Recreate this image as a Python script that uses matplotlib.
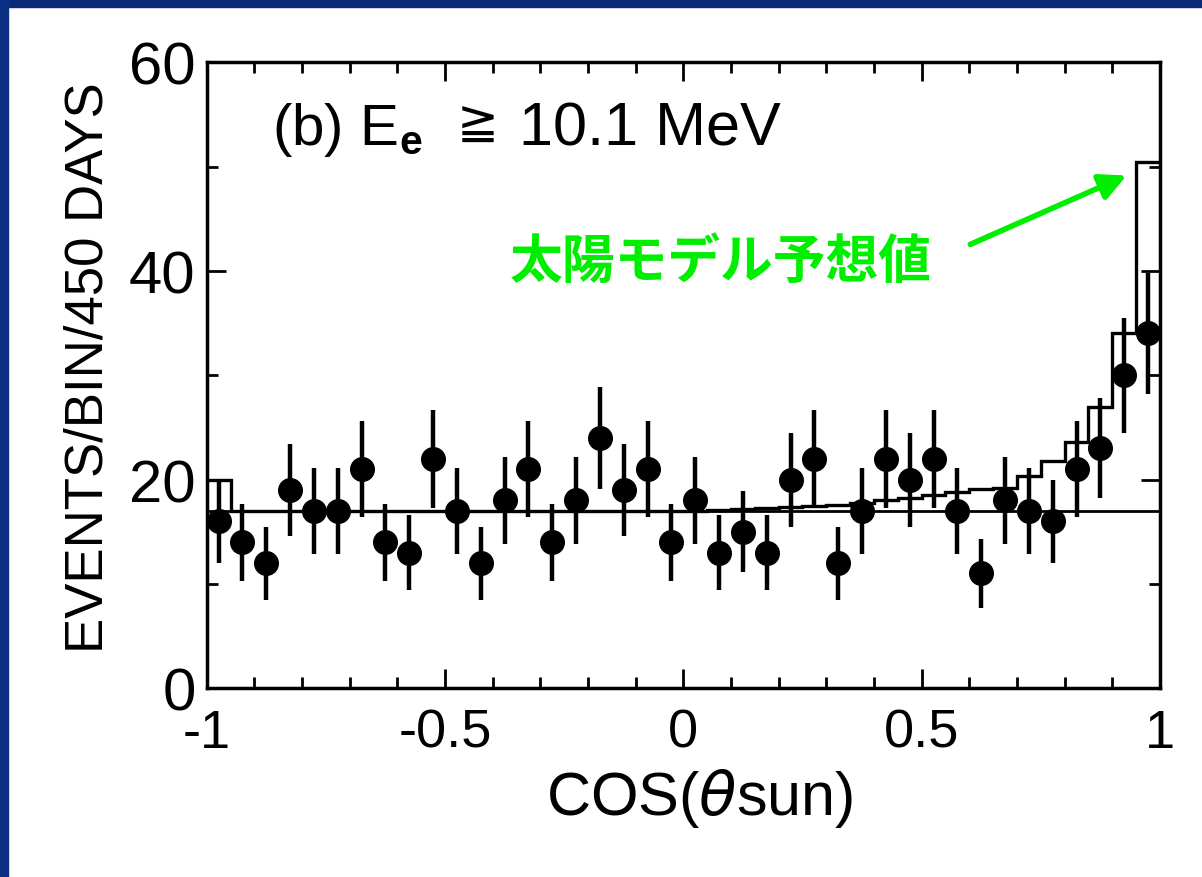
import numpy as np
import matplotlib
matplotlib.use("Agg")
import matplotlib.pyplot as plt
from matplotlib.patches import Rectangle

plt.rcParams['font.family'] = ['Liberation Sans', 'DejaVu Sans', 'Noto Sans CJK JP']
plt.rcParams['mathtext.fontset'] = 'custom'
plt.rcParams['mathtext.rm'] = 'Liberation Sans'
plt.rcParams['mathtext.bf'] = 'Liberation Sans:bold'
plt.rcParams['mathtext.it'] = 'DejaVu Sans:italic'
plt.rcParams['mathtext.default'] = 'regular'

# --- data ---
bin_lo, bin_hi, n_bins = -1.0, 1.0, 40
counts = [16, 14, 12, 19, 17, 17, 21, 14, 13, 22,
          17, 12, 18, 21, 14, 18, 24, 19, 21, 14,
          18, 13, 15, 13, 20, 22, 12, 17, 22, 20,
          22, 17, 11, 18, 17, 16, 21, 23, 30, 34]
errors = [4.0, 3.7, 3.5, 4.4, 4.1, 4.1, 4.6, 3.7, 3.6, 4.7,
          4.1, 3.5, 4.2, 4.6, 3.7, 4.2, 4.9, 4.4, 4.6, 3.7,
          4.2, 3.6, 3.9, 3.6, 4.5, 4.7, 3.5, 4.1, 4.7, 4.5,
          4.7, 4.1, 3.3, 4.2, 4.1, 4.0, 4.6, 4.8, 5.5, 5.8]
# solar model expectation (signal + background), per bin
model = [20.0, 17.0, 17.0, 17.0, 17.0, 17.0, 17.0, 17.0, 17.0, 17.0,
         17.0, 17.0, 17.0, 17.0, 17.0, 17.0, 17.0, 17.0, 17.0, 17.0,
         17.0, 17.1, 17.2, 17.3, 17.4, 17.5, 17.6, 17.8, 18.0, 18.2,
         18.5, 18.8, 19.1, 19.2, 20.3, 21.8, 23.6, 27.0, 34.0, 50.4]
background = 17.0

title_a = r'(b) E$_{\mathbf{e}}$'
title_b = '≧'
title_c = '10.1 MeV'
note_txt = '太陽モデル予想値'
xlab = r'COS($\mathit{\theta}$sun)'
ylab = 'EVENTS/BIN/450 DAYS'
xtick_vals = [-1, -0.5, 0, 0.5, 1]
xtick_txt = ['-1', '-0.5', '0', '0.5', '1']

edges = np.linspace(bin_lo, bin_hi, n_bins + 1)
centers = 0.5 * (edges[:-1] + edges[1:])

green = '#00ee00'

fig = plt.figure(figsize=(12.02, 8.78), dpi=100)
fig.patch.set_facecolor('white')
# dark blue slide frame, top and left
fig.patches.append(Rectangle((0, 1 - 8 / 878), 1, 8 / 878, transform=fig.transFigure,
                             color='#0b2a78', zorder=0))
fig.patches.append(Rectangle((0, 0), 8 / 1202, 1, transform=fig.transFigure,
                             color='#0b2f82', zorder=0))

ax = fig.add_axes([0.172, 0.215, 0.793, 0.713])

ax.axhline(background, color='black', lw=2.0, zorder=2)
ax.stairs(model, edges, baseline=None, color='black', lw=2.4, zorder=3)
ax.errorbar(centers, counts, yerr=errors, fmt='o', color='black', ms=17,
            elinewidth=3.2, capsize=0, zorder=4)

ax.set_xlim(bin_lo, bin_hi)
ax.set_ylim(0, 60)

ax.set_xticks(xtick_vals)
ax.set_xticklabels(xtick_txt)
ax.set_xticks(np.arange(-0.9, 1.0, 0.1), minor=True)
ax.set_yticks([0, 20, 40, 60])
ax.set_yticks([10, 30, 50], minor=True)

for s in ax.spines.values():
    s.set_linewidth(2.5)
ax.tick_params(which='both', direction='in', top=True, right=True, width=2)
ax.tick_params(which='major', length=14)
ax.tick_params(which='minor', length=8)
ax.tick_params(axis='x', which='major', labelsize=39, pad=14)
ax.tick_params(axis='y', which='major', labelsize=43, pad=8)

ax.set_xlabel(xlab, fontsize=44)
ax.xaxis.set_label_coords(0.517, -0.125)
ax.set_ylabel(ylab, fontsize=38)
ax.yaxis.set_label_coords(-0.098, 0.514)

# panel label, in three pieces so the ≧ sits on the baseline
ax.text(0.068, 0.869, title_a, transform=ax.transAxes, fontsize=42,
        ha='left', va='baseline')
ax.text(0.262, 0.879, title_b, transform=ax.transAxes, fontsize=36,
        ha='left', va='baseline', family=['DejaVu Sans'])
ax.text(0.328, 0.869, title_c, transform=ax.transAxes, fontsize=44,
        ha='left', va='baseline')

ax.text(0.318, 0.682, note_txt, transform=ax.transAxes, fontsize=38,
        fontweight='bold', color=green, ha='left', va='center',
        family=['Noto Sans CJK JP', 'DejaVu Sans'])
ax.annotate('', xy=(0.965, 0.819), xytext=(0.801, 0.709),
            xycoords='axes fraction', textcoords='axes fraction',
            arrowprops=dict(arrowstyle='-|>', lw=4, color=green,
                            mutation_scale=40, shrinkA=0, shrinkB=0))

fig.savefig('out.png', dpi=100)
